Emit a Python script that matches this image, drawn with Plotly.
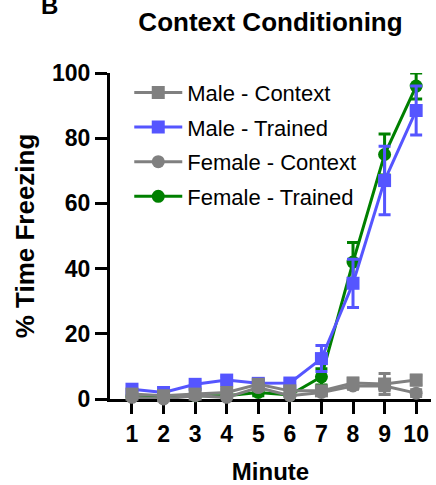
import plotly.graph_objects as go

# Freezing (% time) per minute of the context test, mean and SEM
minutes = [1, 2, 3, 4, 5, 6, 7, 8, 9, 10]

male_context = [1.5, 1.0, 1.5, 2.0, 4.5, 2.5, 2.5, 4.9, 4.6, 5.8]
male_context_sem = [0.8, 0.6, 0.8, 1.0, 1.5, 1.0, 0.8, 1.5, 3.2, 1.5]

male_trained = [3.0, 2.0, 4.5, 5.8, 4.8, 4.9, 12.4, 35.5, 67.0, 88.5]
male_trained_sem = [0.8, 0.6, 1.0, 1.0, 0.8, 1.0, 4.0, 7.4, 10.5, 7.5]

female_context = [0.5, 0.0, 1.0, 0.5, 3.5, 1.0, 2.0, 4.0, 4.0, 1.8]
female_context_sem = [0.5, 0.3, 0.5, 0.5, 1.0, 0.5, 0.5, 1.0, 1.5, 1.0]

female_trained = [0.8, 0.5, 1.0, 1.0, 2.0, 1.2, 6.8, 42.0, 75.0, 96.0]
female_trained_sem = [0.5, 0.3, 0.5, 0.5, 1.0, 0.5, 2.5, 6.0, 6.3, 4.0]

y_ticks = [0, 20, 40, 60, 80, 100]

GRAY = "#808080"
BLUE = "#5555FF"
GREEN = "#008000"
FONT = "Arial, Liberation Sans, sans-serif"

# (name, values, sem, colour, symbol, legend rank) in drawing order, back to front
series = [
    ("Female - Trained", female_trained, female_trained_sem, GREEN, "circle", 4),
    ("Male - Trained", male_trained, male_trained_sem, BLUE, "square", 2),
    ("Female - Context", female_context, female_context_sem, GRAY, "circle", 3),
    ("Male - Context", male_context, male_context_sem, GRAY, "square", 1),
]

fig = go.Figure()
for name, vals, sem, color, symbol, rank in series:
    fig.add_trace(go.Scatter(
        x=minutes, y=vals, name=name, mode="lines+markers",
        line=dict(color=color, width=3),
        marker=dict(color=color, symbol=symbol, size=13, line=dict(width=0)),
        error_y=dict(type="data", array=sem, visible=True, color=color,
                     thickness=3, width=6),
        cliponaxis=False,
        legendrank=rank, legendgroup=name,
    ))

fig.update_layout(
    width=436, height=485,
    margin=dict(l=110, r=5, t=73, b=86),
    paper_bgcolor="white", plot_bgcolor="white",
    font=dict(family=FONT, color="black"),
    title=dict(text="<b>Context Conditioning</b>", x=0.5, xref="paper",
               xanchor="center", y=1 - 22 / 485, yref="container",
               yanchor="middle", font=dict(size=26, color="black")),
    legend=dict(x=0.06, y=1.004, xanchor="left", yanchor="top",
                bgcolor="rgba(0,0,0,0)", font=dict(size=22, color="black"),
                tracegroupgap=3, itemwidth=48),
    showlegend=True,
    annotations=[dict(text="<b>B</b>", xref="paper", yref="paper",
                      x=-0.22, y=1.158, xanchor="left", yanchor="bottom",
                      showarrow=False, font=dict(size=24, color="black"))],
)

fig.update_xaxes(
    range=[0.304, 10.47], tickvals=minutes, ticktext=[str(m) for m in minutes],
    showgrid=False, zeroline=False, showline=True, linecolor="black",
    linewidth=3, ticks="outside", ticklen=12, tickwidth=3, tickcolor="black",
    tickfont=dict(size=23, family=FONT, color="black", weight="bold"),
    title=dict(text="<b>Minute</b>", font=dict(size=24, color="black"),
               standoff=18),
    layer="below traces",
)
fig.update_yaxes(
    range=[0, 100], tickvals=y_ticks,
    showgrid=False, zeroline=False, showline=True, linecolor="black",
    linewidth=3, ticks="outside", ticklen=12, tickwidth=3, tickcolor="black",
    tickfont=dict(size=23, family=FONT, color="black", weight="bold"),
    title=dict(text="<b>% Time Freezing</b>", font=dict(size=26, color="black"),
               standoff=10),
    layer="below traces",
)

fig.write_html("out.html")
